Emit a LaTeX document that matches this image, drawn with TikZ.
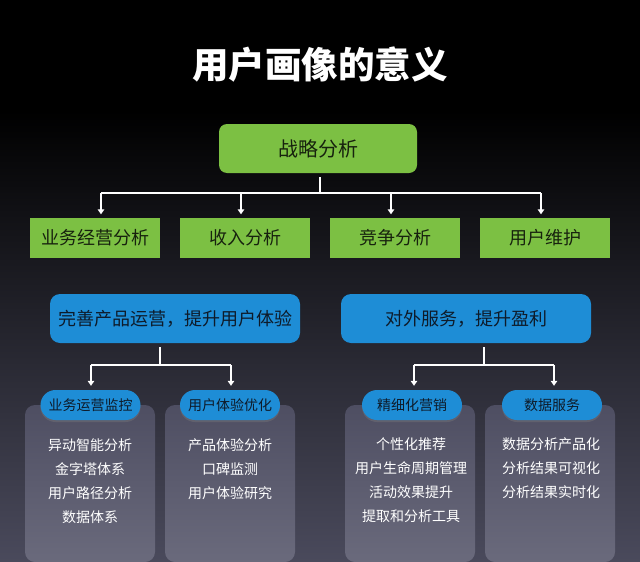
\documentclass[tikz,border=0pt]{standalone}
\usepackage{fontspec}
\newfontfamily\cjk{Noto Sans CJK SC}
\usetikzlibrary{arrows.meta,shadows}
\definecolor{grn}{HTML}{7CC043}
\definecolor{blu}{HTML}{1E8DD6}
\definecolor{gtxt}{HTML}{17220E}
\definecolor{btxt}{HTML}{0E1B2A}
\definecolor{bgmid}{HTML}{202034}
\definecolor{bgbot}{HTML}{4A4A5C}
\definecolor{pantop}{HTML}{4E4E62}
\definecolor{panbot}{HTML}{6A6A7C}
\tikzset{
  topbox/.style={fill=grn, rounded corners=8pt, minimum width=198pt, minimum height=49pt, inner sep=0pt, text=gtxt, font=\cjk\fontsize{20}{24}\selectfont},
  gbox/.style={fill=grn, minimum width=130pt, minimum height=40pt, inner sep=0pt, text=gtxt, font=\cjk\fontsize{18}{22}\selectfont},
  bbox/.style={fill=blu, rounded corners=10pt, minimum width=250pt, minimum height=49pt, inner sep=0pt, text=btxt, font=\cjk\fontsize{18}{22}\selectfont},
  pill/.style={fill=blu, rounded corners=15pt, minimum width=100pt, minimum height=30pt, inner sep=0pt, text=btxt, font=\cjk\fontsize{14}{18}\selectfont, drop shadow={opacity=0.35, shadow xshift=0pt, shadow yshift=-2pt}},
  panel/.style={top color=pantop, bottom color=panbot, rounded corners=10pt, minimum width=130pt, minimum height=157pt, inner sep=0pt, draw=none},
  plist/.style={text=white, align=center, inner sep=0pt, anchor=north, font=\cjk\fontsize{14}{24}\selectfont},
  link/.style={draw=white, line width=1.8pt},
  arr/.style={draw=white, line width=1.8pt, -{Triangle[length=5pt,width=6.5pt]}},
}
\begin{document}
\begin{tikzpicture}[x=1pt,y=-1pt]
\useasboundingbox (0,0) rectangle (640,562);
\fill[black] (0,0) rectangle (640,111);
\shade[top color=black, middle color=bgmid, bottom color=bgbot] (0,110) rectangle (640,562);

\node[text=white, font=\cjk\bfseries\fontsize{36.5}{42}\selectfont] (title) at (320,65) {用户画像的意义};

\node[topbox] (top) at (318,148.5) {战略分析};
\node[gbox] (g1) at (95,238) {业务经营分析};
\node[gbox] (g2) at (245,238) {收入分析};
\node[gbox] (g3) at (395,238) {竞争分析};
\node[gbox] (g4) at (545,238) {用户维护};

\coordinate (j1) at (320,193);
\draw[link, shorten <=4pt] (j1 |- top.south) -- (j1);
\coordinate (a1) at (101,193);
\coordinate (a2) at (241,193);
\coordinate (a3) at (391,193);
\coordinate (a4) at (541,193);
\draw[link] (a1) -- (a4);
\draw[arr, shorten >=3.5pt] (a1) -- (a1 |- g1.north);
\draw[arr, shorten >=3.5pt] (a2) -- (a2 |- g2.north);
\draw[arr, shorten >=3.5pt] (a3) -- (a3 |- g3.north);
\draw[arr, shorten >=3.5pt] (a4) -- (a4 |- g4.north);

\node[bbox] (b1) at (175,318.5) {完善产品运营，提升用户体验};
\node[bbox] (b2) at (466,318.5) {对外服务，提升盈利};

\node[panel] (p1) at (90,483.5) {};
\node[panel] (p2) at (230,483.5) {};
\node[panel] (p3) at (410,483.5) {};
\node[panel] (p4) at (550,483.5) {};

\node[pill] (s1) at (90.5,405) {业务运营监控};
\node[pill] (s2) at (230,405) {用户体验优化};
\node[pill] (s3) at (412,405) {精细化营销};
\node[pill] (s4) at (552,405) {数据服务};

\coordinate (j2) at (160,365);
\coordinate (j3) at (484,365);
\draw[link, shorten <=4pt] (j2 |- b1.south) -- (j2);
\draw[link, shorten <=4pt] (j3 |- b2.south) -- (j3);
\coordinate (c1) at (91,365);
\coordinate (c2) at (231,365);
\coordinate (c3) at (414,365);
\coordinate (c4) at (554,365);
\draw[link] (c1) -- (c2);
\draw[link] (c3) -- (c4);
\draw[arr, shorten >=4pt] (c1) -- (c1 |- s1.north);
\draw[arr, shorten >=4pt] (c2) -- (c2 |- s2.north);
\draw[arr, shorten >=4pt] (c3) -- (c3 |- s3.north);
\draw[arr, shorten >=4pt] (c4) -- (c4 |- s4.north);

\node[plist] (t1) at (90,438) {异动智能分析\\金字塔体系\\用户路径分析\\数据体系};
\node[plist] (t2) at (230,438) {产品体验分析\\口碑监测\\用户体验研究};
\node[plist] (t3) at (411,438) {个性化推荐\\用户生命周期管理\\活动效果提升\\提取和分析工具};
\node[plist] (t4) at (551,438) {数据分析产品化\\分析结果可视化\\分析结果实时化};
\end{tikzpicture}
\end{document}
